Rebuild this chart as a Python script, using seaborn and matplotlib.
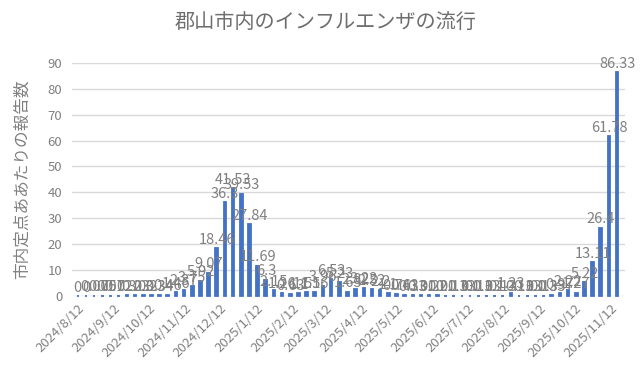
import pandas as pd
import numpy as np
import matplotlib
matplotlib.use('Agg')
import matplotlib.pyplot as plt
import matplotlib.dates as mdates
import seaborn as sns

sns.set_style('white')
plt.rcParams['font.family'] = ['Noto Sans CJK JP', 'DejaVu Sans']

# 週ごとの定点あたり報告数 (2024/8/12 から毎週)
start_date = '2024-08-12'
reports = [
    0, 0, 0.07, 0.05, 0.07, 0.12, 0.3, 0.23, 0.3, 0.23, 0.34, 0.46,
    1.46, 2.37, 3.75, 5.92, 9.07, 18.46, 36.3, 41.53, 39.53, 27.84, 11.69, 6.3,
    2.15, 1.26, 0.63, 1.1, 1.51, 1.56, 3.96, 6.53, 5.23, 1.63, 2.82, 3.22,
    2.52, 2.2, 1.1, 0.76, 0.43, 0.33, 0.31, 0.2, 0.2, 0.1, 0.13, 0.13,
    0.1, 0.13, 0.13, 0.1, 0.13, 1.23, 0.13, 0.13, 0.1, 0.13, 0.33, 0.97,
    2.22, 1.27, 5.22, 13.11, 26.4, 61.78, 86.33,
]
weeks = pd.date_range(start_date, periods=len(reports), freq='7D')
tick_dates = pd.date_range('2024-08-01', '2025-11-01', freq='MS') + pd.Timedelta(days=11)
tick_labels = [f'{d.year}/{d.month}/{d.day}' for d in tick_dates]

df = pd.DataFrame({'x': mdates.date2num(weeks), 'v': reports})

bar_color = '#4472C4'
gray = '#808080'

fig = plt.figure(figsize=(6.4, 3.7), dpi=100)
ax = fig.add_axes([0.1125, 0.2, 0.8645, 0.63])
sns.barplot(data=df, x='x', y='v', native_scale=True, color=bar_color,
            width=0.32, ax=ax, saturation=1, edgecolor=bar_color, linewidth=1.3)
for p in ax.patches:
    p.set_clip_on(False)

ax.bar_label(ax.containers[0], labels=[f'{v:g}' for v in reports],
             padding=1, fontsize=10.5, color=gray)

ax.set_ylim(0, 90)
ax.set_yticks(range(0, 91, 10))
ax.set_xlim(df.x.iloc[0] - 5, df.x.iloc[-1] + 7)
ax.set_xticks(mdates.date2num(tick_dates))
ax.set_xticklabels(tick_labels, rotation=45, ha='right', rotation_mode='anchor')
ax.tick_params(axis='both', labelsize=9.5, labelcolor=gray, length=0)
ax.tick_params(axis='x', pad=4)
ax.tick_params(axis='y', pad=7)
ax.grid(axis='y', color='#d9d9d9', linewidth=1)
ax.set_axisbelow(True)
sns.despine(ax=ax, left=True, bottom=True)
ax.set_xlabel('')
ax.set_ylabel('市内定点ああたりの報告数', fontsize=12, color=gray, labelpad=12)

fig.suptitle('郡山市内のインフルエンザの流行', x=0.508, y=0.965, fontsize=14.5, color='#6e6e6e')

plt.savefig('out.png', dpi=100)
